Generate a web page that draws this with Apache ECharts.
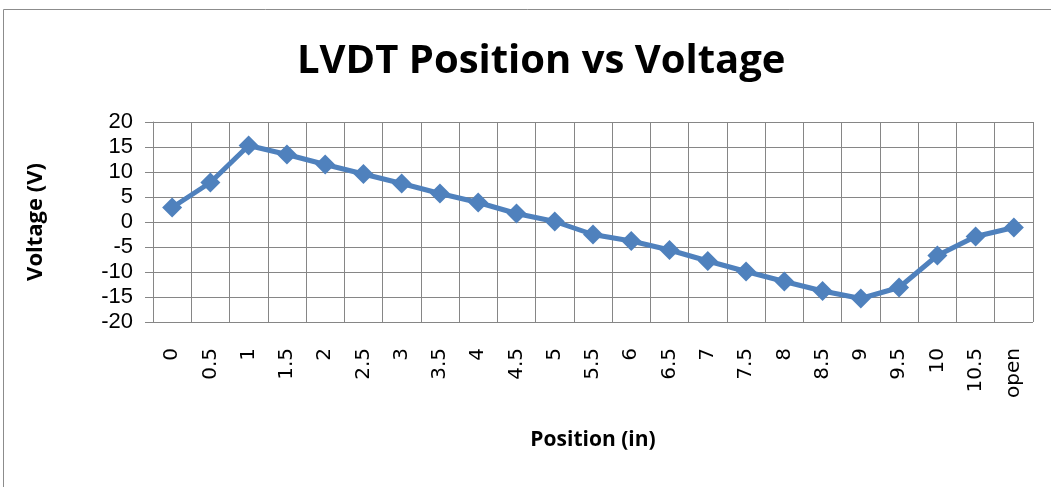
<!DOCTYPE html>
<html>
<head>
<meta charset="utf-8">
<script src="https://cdn.jsdelivr.net/npm/echarts@6/dist/echarts.min.js"></script>
<style>
  html, body { margin: 0; padding: 0; background: #fff; }
  #chart { width: 1051px; height: 487px; }
</style>
</head>
<body>
<div id="chart"></div>
<script>
// positions along the LVDT (last reading is with the core out)
const positions = ['0', '0.5', '1', '1.5', '2', '2.5', '3', '3.5', '4', '4.5', '5', '5.5',
  '6', '6.5', '7', '7.5', '8', '8.5', '9', '9.5', '10', '10.5', 'open']
// measured voltage (V)
const voltages = [2.9, 7.9, 15.3, 13.5, 11.5, 9.6, 7.7, 5.7, 3.9, 1.7, 0.1, -2.5,
  -3.8, -5.6, -7.8, -9.9, -11.9, -13.8, -15.3, -13.1, -6.7, -2.9, -1.1]

const gridColor = '#868686'
const lineColor = '#4F81BD'

const chart = echarts.init(document.getElementById('chart'))

const option = {
  animation: false,
  backgroundColor: '#fff',
  graphic: [{
    type: 'rect',
    shape: { x: 3.5, y: 9.5, width: 1060, height: 500 },
    style: { fill: 'none', stroke: '#8c8c8c', lineWidth: 1 },
    silent: true
  }],
  title: {
    text: 'LVDT Position vs Voltage',
    left: 292,
    top: 37,
    textStyle: {
      fontFamily: 'Open Sans',
      fontWeight: 'bold',
      fontSize: 40,
      color: '#000'
    }
  },
  grid: {
    left: 153,
    right: 18,
    top: 122,
    bottom: 165
  },
  xAxis: {
    type: 'category',
    data: positions,
    boundaryGap: true,
    name: 'Position (in)',
    nameLocation: 'middle',
    nameGap: 108,
    nameTextStyle: {
      fontFamily: 'Open Sans',
      fontWeight: 'bold',
      fontSize: 21,
      color: '#000'
    },
    axisLine: { lineStyle: { color: gridColor, width: 1 } },
    axisTick: { show: true, length: 7, lineStyle: { color: gridColor } },
    splitLine: { show: true, lineStyle: { color: gridColor, width: 1 } },
    axisLabel: {
      rotate: 90,
      margin: 26,
      interval: 0,
      fontFamily: 'DejaVu Sans',
      fontSize: 20,
      color: '#000'
    }
  },
  yAxis: {
    type: 'value',
    min: -20,
    max: 20,
    interval: 5,
    name: 'Voltage (V)',
    nameLocation: 'middle',
    nameGap: 106,
    nameRotate: 90,
    nameTextStyle: {
      fontFamily: 'Open Sans',
      fontWeight: 'bold',
      fontSize: 22,
      color: '#000'
    },
    axisLine: { show: true, lineStyle: { color: gridColor, width: 1 } },
    axisTick: { show: true, length: 8, lineStyle: { color: gridColor } },
    splitLine: { show: true, lineStyle: { color: gridColor, width: 1 } },
    axisLabel: {
      margin: 20,
      fontFamily: 'Liberation Sans',
      fontSize: 22,
      color: '#000'
    }
  },
  series: [{
    name: 'Voltage',
    type: 'line',
    data: voltages,
    symbol: 'diamond',
    symbolSize: 20,
    itemStyle: { color: lineColor },
    lineStyle: { color: lineColor, width: 5 }
  }]
}

chart.setOption(option)
</script>
</body>
</html>
